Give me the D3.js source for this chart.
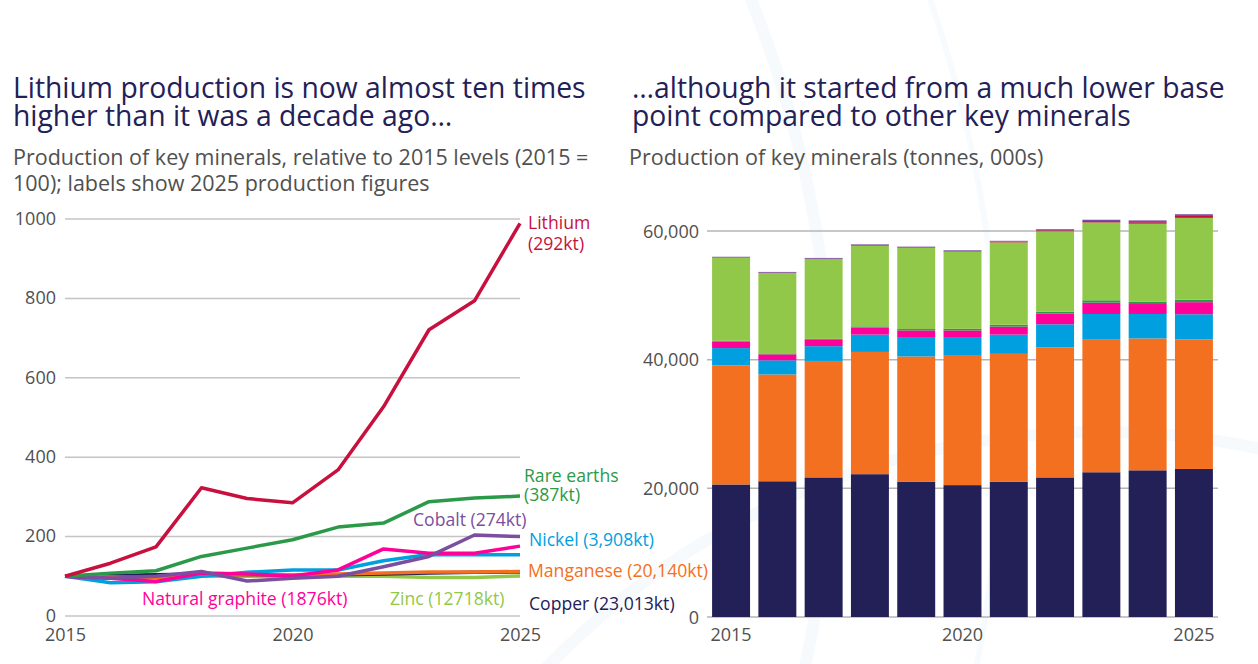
<!DOCTYPE html>
<html>
<head>
<meta charset="utf-8">
<script src="https://cdn.jsdelivr.net/npm/d3@7"></script>
<style>
  body { margin: 0; background: #fff; }
  svg { display: block; font-family: "Open Sans", "Noto Sans", sans-serif; }
</style>
</head>
<body>
<svg width="1258" height="664"></svg>
<script>
// years shared by both panels
const years = [2015, 2016, 2017, 2018, 2019, 2020, 2021, 2022, 2023, 2024, 2025];

// left panel: production index (2015 = 100)
const lithiumIdx   = [100, 133, 174, 323, 296, 285, 368, 527, 721, 794, 989];
const rareEarthIdx = [100, 108, 114, 150, 171, 192, 224, 234, 288, 297, 302];
const cobaltIdx    = [100, 95, 100, 112, 88, 95, 100, 124, 150, 204, 200];
const nickelIdx    = [100, 84, 86, 100, 110, 116, 116, 139, 155, 154, 154];
const graphiteIdx  = [100, 95, 87, 108, 106, 101, 116, 169, 158, 158, 176];
const manganeseIdx = [100, 98, 97, 104, 104, 104, 106, 108, 111, 111, 112];
const copperIdx    = [100, 102, 104, 106, 104, 102, 104, 106, 108, 110, 111];
const zincIdx      = [100, 98, 96, 100, 100, 98, 100, 100, 97, 97, 101];

// right panel: production, thousand tonnes
const copperKt    = [20600, 21100, 21700, 22200, 21000, 20500, 21000, 21700, 22500, 22800, 23013];
const manganeseKt = [18500, 16600, 18100, 19000, 19500, 20100, 19900, 20200, 20600, 20500, 20140];
const nickelKt    = [2700, 2200, 2300, 2700, 2900, 2800, 3000, 3600, 4000, 3800, 3908];
const graphiteKt  = [1000, 930, 980, 1080, 1140, 1140, 1240, 1650, 1760, 1550, 1876];
const rareEarthKt = [129, 139, 147, 194, 221, 248, 289, 302, 372, 383, 387];
const zincKt      = [12900, 12500, 12400, 12500, 12600, 12000, 12800, 12500, 12100, 12100, 12718];
const lithiumKt   = [30, 39, 51, 95, 88, 84, 109, 156, 213, 235, 292];
const cobaltKt    = [137, 130, 137, 153, 121, 130, 137, 170, 206, 280, 274];

const svg = d3.select("svg");
const font = "Open Sans, Noto Sans, sans-serif";

// faint background arcs
const bg = svg.append("g").attr("fill", "none");
bg.append("circle").attr("cx", -300).attr("cy", 420).attr("r", 1132)
  .attr("stroke", "#f6fafd").attr("stroke-width", 12);
bg.append("circle").attr("cx", -300).attr("cy", 420).attr("r", 1300)
  .attr("stroke", "#f8fbfe").attr("stroke-width", 6);
bg.append("circle").attr("cx", 1100).attr("cy", 1200).attr("r", 768)
  .attr("stroke", "#f6fafd").attr("stroke-width", 12);

// titles
const navy = "#232058";
function textLines(x, y0, lh, lines, size, color) {
  svg.append("text").attr("x", x).attr("y", y0)
    .attr("font-size", size).attr("fill", color)
    .selectAll("tspan").data(lines).join("tspan")
    .attr("x", x).attr("dy", (d, i) => i ? lh : 0).text(d => d);
}
textLines(13, 98, 28, ["Lithium production is now almost ten times", "higher than it was a decade ago…"], 28.3, navy);
textLines(632, 98, 28, ["…although it started from a much lower base", "point compared to other key minerals"], 28.3, navy);
textLines(13, 165, 26, ["Production of key minerals, relative to 2015 levels (2015 =", "100); labels show 2025 production figures"], 21.5, "#505050");
textLines(629, 165, 26, ["Production of key minerals (tonnes, 000s)"], 21.5, "#505050");

// ---------- left panel: lines ----------
const xL = d3.scaleLinear().domain([2015, 2025]).range([65, 520]);
const yL = d3.scaleLinear().domain([0, 1000]).range([616, 219]);

const gL = svg.append("g");
gL.selectAll(".grid").data(yL.ticks(5)).join("line")
  .attr("x1", 65).attr("x2", 520)
  .attr("y1", d => yL(d)).attr("y2", d => yL(d))
  .attr("stroke", "#c4c4c4").attr("stroke-width", 1.5);

gL.append("g").attr("transform", "translate(56,-1)")
  .call(d3.axisLeft(yL).ticks(5).tickSize(0).tickFormat(d3.format("d")))
  .call(g => g.select(".domain").remove())
  .call(g => g.selectAll("text").attr("font-size", 18).attr("fill", "#505050")
    .attr("font-family", font).attr("x", 0).attr("dy", "0.35em"));

gL.append("g").attr("transform", "translate(0,625)")
  .call(d3.axisBottom(xL).tickValues([2015, 2020, 2025]).tickSize(0).tickFormat(d3.format("d")))
  .call(g => g.select(".domain").remove())
  .call(g => g.selectAll("text").attr("font-size", 18).attr("fill", "#505050")
    .attr("font-family", font));

const series = [
  { name: "Zinc", idx: zincIdx, color: "#92c84a" },
  { name: "Copper", idx: copperIdx, color: navy },
  { name: "Manganese", idx: manganeseIdx, color: "#f37021" },
  { name: "Nickel", idx: nickelIdx, color: "#00a0e0" },
  { name: "Natural graphite", idx: graphiteIdx, color: "#ff0099" },
  { name: "Cobalt", idx: cobaltIdx, color: "#7b4ea0" },
  { name: "Rare earths", idx: rareEarthIdx, color: "#2b9a48" },
  { name: "Lithium", idx: lithiumIdx, color: "#c8103e" }
];

const line = d3.line().x((d, i) => xL(years[i])).y(d => yL(d));
gL.selectAll(".ln").data(series).join("path")
  .attr("d", d => line(d.idx))
  .attr("fill", "none").attr("stroke", d => d.color)
  .attr("stroke-width", 3.5).attr("stroke-linejoin", "round");

// line labels
const labels = [
  { lines: ["Lithium", "(292kt)"], x: 528, y: 229, lh: 21, color: "#c8103e" },
  { lines: ["Rare earths", "(387kt)"], x: 524, y: 482, lh: 19, color: "#2b9a48" },
  { lines: ["Cobalt (274kt)"], x: 413, y: 526, lh: 0, color: "#7b4ea0" },
  { lines: ["Nickel (3,908kt)"], x: 529, y: 546, lh: 0, color: "#00a0e0" },
  { lines: ["Manganese (20,140kt)"], x: 528, y: 577, lh: 0, color: "#f37021" },
  { lines: ["Copper (23,013kt)"], x: 529, y: 610, lh: 0, color: navy },
  { lines: ["Natural graphite (1876kt)"], x: 142, y: 605, lh: 0, color: "#ff0099" },
  { lines: ["Zinc (12718kt)"], x: 390, y: 605, lh: 0, color: "#92c84a" }
];
labels.forEach(l => textLines(l.x, l.y, l.lh, l.lines, 17.6, l.color));

// ---------- right panel: stacked bars ----------
const keys = ["copper", "manganese", "nickel", "graphite", "rareEarths", "zinc", "lithium", "cobalt"];
const colors = {
  copper: navy, manganese: "#f37021", nickel: "#00a0e0", graphite: "#ff0099",
  rareEarths: "#2b9a48", zinc: "#92c84a", lithium: "#c8103e", cobalt: "#7b4ea0"
};
const table = years.map((yr, i) => ({
  year: yr, copper: copperKt[i], manganese: manganeseKt[i], nickel: nickelKt[i],
  graphite: graphiteKt[i], rareEarths: rareEarthKt[i], zinc: zincKt[i],
  lithium: lithiumKt[i], cobalt: cobaltKt[i]
}));
const stacked = d3.stack().keys(keys)(table);

const xR = d3.scaleBand().domain(years).range([707, 1218]).paddingInner(0.18).paddingOuter(0.11);
const yR = d3.scaleLinear().domain([0, 60000]).range([617, 231]);

const gR = svg.append("g");
gR.selectAll(".grid").data([0, 20000, 40000, 60000]).join("line")
  .attr("x1", 707).attr("x2", 1218)
  .attr("y1", d => yR(d)).attr("y2", d => yR(d))
  .attr("stroke", "#b4b4b4").attr("stroke-width", 1.5);

gR.append("g").attr("transform", "translate(699,0)")
  .call(d3.axisLeft(yR).tickValues([0, 20000, 40000, 60000]).tickSize(0).tickFormat(d3.format(",")))
  .call(g => g.select(".domain").remove())
  .call(g => g.selectAll("text").attr("font-size", 18).attr("fill", "#505050")
    .attr("font-family", font).attr("x", 0).attr("dy", "0.35em"));

gR.selectAll(".layer").data(stacked).join("g")
  .attr("fill", d => colors[d.key])
  .selectAll("rect").data(d => d).join("rect")
  .attr("x", d => xR(d.data.year))
  .attr("width", xR.bandwidth())
  .attr("y", d => yR(d[1]))
  .attr("height", d => yR(d[0]) - yR(d[1]));

gR.append("g").attr("transform", "translate(0,625)")
  .call(d3.axisBottom(xR).tickValues([2015, 2020, 2025]).tickSize(0))
  .call(g => g.select(".domain").remove())
  .call(g => g.selectAll("text").attr("font-size", 18).attr("fill", "#505050")
    .attr("font-family", font));
</script>
</body>
</html>
